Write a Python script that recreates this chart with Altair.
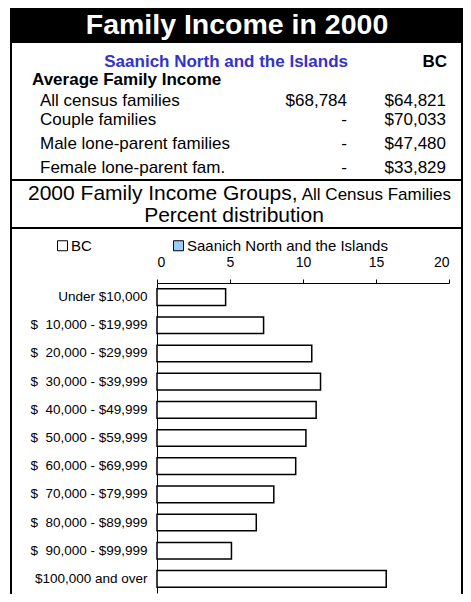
import altair as alt
import pandas as pd

# ---------------- data ----------------
categories = [
    "Under $10,000",
    "$ \u00a010,000 - $19,999",
    "$ \u00a020,000 - $29,999",
    "$ \u00a030,000 - $39,999",
    "$ \u00a040,000 - $49,999",
    "$ \u00a050,000 - $59,999",
    "$ \u00a060,000 - $69,999",
    "$ \u00a070,000 - $79,999",
    "$ \u00a080,000 - $89,999",
    "$ \u00a090,000 - $99,999",
    "$100,000 and over",
]
bc_values = [4.7, 7.3, 10.6, 11.2, 10.9, 10.2, 9.5, 8.0, 6.8, 5.1, 15.7]
series = ["BC", "Saanich North and the Islands"]
series_colors = ["#ffffff", "#99ccff"]
x_ticks = [0, 5, 10, 15, 20]

row_names = ["All census families", "Couple families",
             "Male lone-parent families", "Female lone-parent fam."]
saanich_income = ["$68,784", "-", "-", "-"]
bc_income = ["$64,821", "$70,033", "$47,480", "$33,829"]

title_text = "Family Income in 2000"
region_name = "Saanich North and the Islands"
section_head = "Average Family Income"
groups_head = "2000 Family Income Groups, "
groups_sub = "All Census Families"
pct_text = "Percent distribution"

FONT = "Liberation Sans"

df = pd.DataFrame({"category": categories, "value": bc_values, "series": "BC"})


def one():
    return pd.DataFrame({"k": [0]})


def txt(s, x, y, size, bold=False, color="black", align="left"):
    return alt.Chart(one()).mark_text(
        text=s, align=align, baseline="alphabetic", fontSize=size, font=FONT,
        fontWeight="bold" if bold else "normal", color=color,
    ).encode(x=alt.value(x), y=alt.value(y))


def box(x1, x2, y1, y2, fill="transparent", sw=2):
    return alt.Chart(one()).mark_rect(fill=fill, stroke="black", strokeWidth=sw).encode(
        x=alt.value(x1), x2=alt.value(x2), y=alt.value(y1), y2=alt.value(y2))


R = 305  # right frame edge (plot coords)
layers = []
# frames
layers.append(box(-146, R, -276, -55))
layers.append(box(-146, R, -276, -240, fill="black", sw=0))
layers.append(alt.Chart(one()).mark_rule(color="black", strokeWidth=2).encode(
    x=alt.value(-146), x2=alt.value(R), y=alt.value(-103)))
layers.append(box(-146, R, -55, 340))

# header texts
layers.append(txt(title_text, 80, -249, 28.5, bold=True, color="white", align="center"))
layers.append(txt(region_name, 191, -216, 17, bold=True, color="#3333cc", align="right"))
layers.append(txt("BC", 290, -216, 17, bold=True, align="right"))
layers.append(txt(section_head, -125, -198, 17, bold=True))
row_y = [-177, -158, -134, -110]
for name, s_inc, b_inc, yy in zip(row_names, saanich_income, bc_income, row_y):
    layers.append(txt(name, -117, yy, 17))
    layers.append(txt(s_inc, 190, yy, 17, align="right"))
    layers.append(txt(b_inc, 289, yy, 17, align="right"))
layers.append(txt(groups_head, -129, -83, 21))
layers.append(txt(groups_sub, 294, -83, 17, align="right"))
layers.append(txt(pct_text, 77, -61, 21, align="center"))

# bars
bars = alt.Chart(df).mark_bar(stroke="black", strokeWidth=1.5).encode(
    x=alt.X("value:Q", scale=alt.Scale(domain=[0, 20], nice=False),
            axis=alt.Axis(orient="top", values=x_ticks, grid=False, tickSize=4,
                          labelPadding=10, title=None, domainColor="black",
                          tickColor="black", labelColor="black", labelFontSize=14,
                          labelFont=FONT)),
    y=alt.Y("category:N", sort=categories,
            scale=alt.Scale(paddingInner=0.41, paddingOuter=0.205, range=[0, 310]),
            axis=alt.Axis(title=None, ticks=False, labelPadding=10, domainColor="black",
                          labelColor="black", labelFontSize=13.5, labelFont=FONT)),
    fill=alt.Fill("series:N", scale=alt.Scale(domain=series, range=series_colors),
                  legend=alt.Legend(orient="none", legendX=-102, legendY=-45,
                                    direction="horizontal", title=None,
                                    symbolType="square", symbolSize=100,
                                    symbolStrokeColor="black", symbolStrokeWidth=1,
                                    labelFontSize=15, labelFont=FONT, labelColor="black",
                                    labelOffset=1, columnPadding=79, labelLimit=0)),
)
layers.append(bars)

chart = alt.layer(*layers).properties(
    width=292, height=305,
    autosize=alt.AutoSizeParams(type="none"),
    padding={"left": 149, "top": 275, "right": 14, "bottom": 6},
    background="white",
).configure_view(strokeWidth=0)

chart.save("out.html", embed_options={"renderer": "svg", "actions": False})
